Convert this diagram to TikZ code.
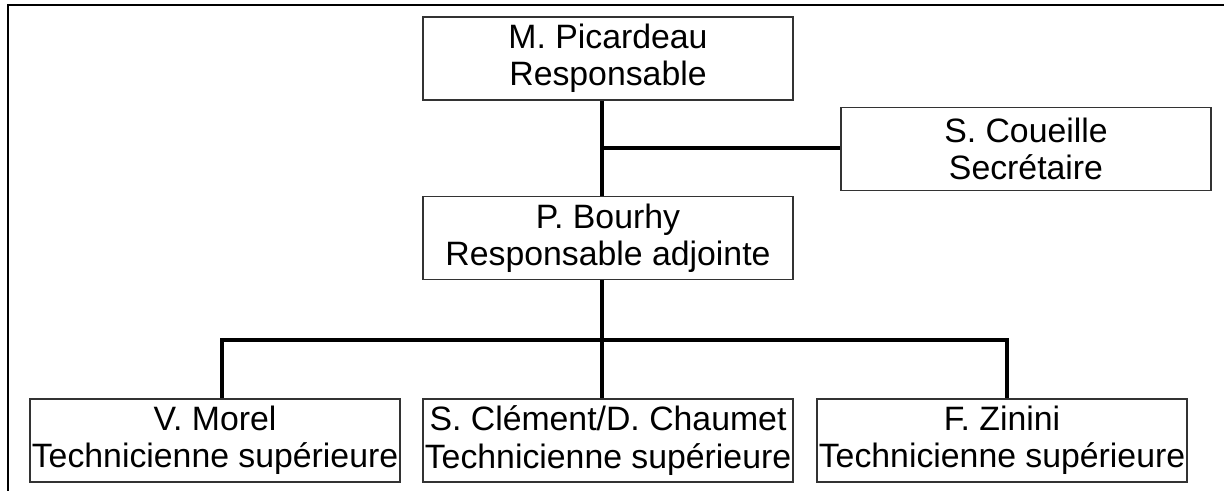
\documentclass[tikz,border=0pt]{standalone}
\usepackage{fontspec}
\setmainfont{Liberation Sans}

\begin{document}
\begin{tikzpicture}[x=0.5pt,y=-0.5pt,
    post/.style={draw=black!80,line width=0.6pt,minimum width=185pt,minimum height=41.5pt,
      inner sep=0pt,align=center,font=\fontsize{16.9}{18.7}\selectfont},
    link/.style={line width=2pt,line join=miter}]
  \useasboundingbox (0,0) rectangle (1228,491);
  \draw[line width=1pt] (8,491) -- (8,5) -- (1224,5);
  \node[post] (pic) at (608,58.5) {M. Picardeau\\Responsable};
  \node[post] (cou) at (1026,149) {S. Coueille\\Secrétaire};
  \node[post] (bou) at (608,238) {P. Bourhy\\Responsable adjointe};
  \node[post] (mor) at (215,440.5) {V. Morel\\Technicienne supérieure};
  \node[post] (cle) at (608,440.5) {S. Clément/D. Chaumet\\Technicienne supérieure};
  \node[post] (zin) at (1002,440.5) {F. Zinini\\Technicienne supérieure};
  \coordinate (trunk) at (602,148);
  \coordinate (bus) at (602,340);
  \coordinate (dl) at (222,340);
  \coordinate (dr) at (1007,340);
  \draw[link] (pic.south -| trunk) -- (bou.north -| trunk);
  \draw[link] (trunk) -- (trunk -| cou.west);
  \draw[link] (bou.south -| bus) -- (bus) -- (cle.north -| bus);
  \draw[link] (mor.north -| dl) -- (dl) -- (dr) -- (zin.north -| dr);
\end{tikzpicture}
\end{document}
